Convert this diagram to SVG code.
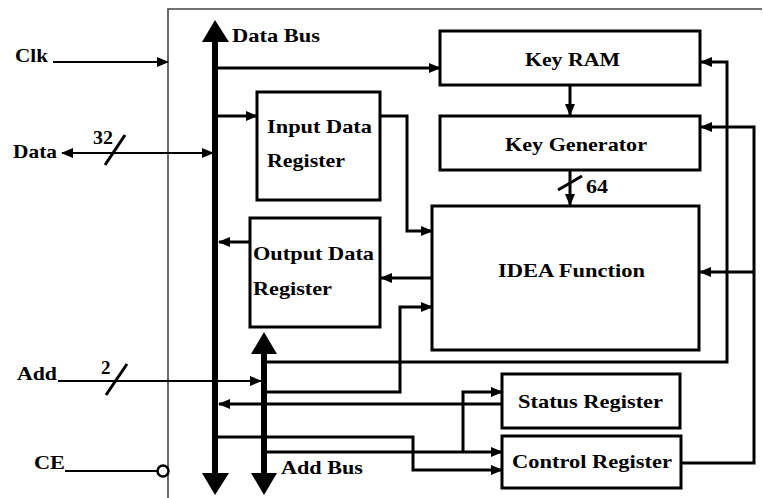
<svg xmlns="http://www.w3.org/2000/svg" width="763" height="498" viewBox="0 0 763 498">
<style>
.box{fill:#fff;stroke:#000;stroke-width:3}
.c{fill:none;stroke:#000;stroke-width:3}
.thin{fill:none;stroke:#000;stroke-width:2}
.a{marker-end:url(#ah)}
.bus{stroke:#000;stroke-width:6}
text{font-family:"Liberation Serif","Times New Roman",serif;font-weight:bold;font-size:19px;fill:#000}
</style>
<defs>
<marker id="ah" viewBox="0 0 12 10" refX="11" refY="5" markerWidth="12" markerHeight="10" markerUnits="userSpaceOnUse" orient="auto-start-reverse">
<path d="M0,0 L12,5 L0,10 z" fill="#000"/>
</marker>
</defs>
<rect width="763" height="498" fill="#fff"/>
<path d="M168,498 L168,9 L762,9" fill="none" stroke="#444" stroke-width="1.6"/>

<g id="connectors">
<path class="thin a" d="M53,62 L168,62"/>
<path class="thin a" d="M62,153 L213,153" marker-start="url(#ah)"/>
<path class="c" d="M105,165 L125,135"/>
<path class="c a" d="M218,68 L440,68"/>
<path class="c a" d="M218,116 L257,116"/>
<path class="c a" d="M380,116 L407,116 L407,231 L432,231"/>
<path class="c a" d="M570,85 L570,115"/>
<path class="c a" d="M570,170 L570,205"/>
<path class="c" d="M558,190 L582,176"/>
<path class="c a" d="M250,242 L219,242"/>
<path class="c a" d="M432,278 L381,278"/>
<path class="c a" d="M267,392 L400,392 L400,307 L432,307"/>
<path class="c a" d="M267,362 L727,362 L727,62 L701,62"/>
<path class="c a" d="M681,463 L754,463 L754,127 L701,127"/>
<path class="c a" d="M754,272 L700,272"/>
<path class="c a" d="M463,452 L463,392 L502,392"/>
<path class="c a" d="M502,404 L219,404"/>
<path class="c a" d="M218,437 L413,437 L413,470 L502,470"/>
<path class="c a" d="M267,452 L502,452"/>
<path class="thin a" d="M58,381 L261,381"/>
<path class="c" d="M106,395 L127,364"/>
<path class="thin" d="M65,471 L157,471"/>
<circle cx="163" cy="471" r="5.5" fill="#fff" stroke="#000" stroke-width="2.5"/>
</g>

<g id="data-bus">
<line class="bus" x1="215" y1="40" x2="215" y2="475"/>
<polygon points="202,42 215,20 229,42" fill="#000"/>
<polygon points="202,473 215,495 229,473" fill="#000"/>
<text x="232" y="42" textLength="88" lengthAdjust="spacingAndGlyphs">Data Bus</text>
</g>
<g id="add-bus">
<line class="bus" x1="264" y1="352" x2="264" y2="475"/>
<polygon points="251,354 264,332 277,354" fill="#000"/>
<polygon points="251,473 264,495 277,473" fill="#000"/>
<text x="281" y="474" textLength="82" lengthAdjust="spacingAndGlyphs">Add Bus</text>
</g>

<g id="labels">
<text x="15" y="62" textLength="33" lengthAdjust="spacingAndGlyphs">Clk</text>
<text x="13" y="158" textLength="44" lengthAdjust="spacingAndGlyphs">Data</text>
<text x="93" y="144" textLength="20" lengthAdjust="spacingAndGlyphs">32</text>
<text x="17" y="380" textLength="40" lengthAdjust="spacingAndGlyphs">Add</text>
<text x="101" y="374">2</text>
<text x="34" y="469" textLength="31" lengthAdjust="spacingAndGlyphs">CE</text>
<text x="586" y="193" textLength="22" lengthAdjust="spacingAndGlyphs">64</text>
</g>

<g id="key-ram">
<rect class="box" x="440" y="31" width="260" height="54"/>
<text x="525" y="66" textLength="95" lengthAdjust="spacingAndGlyphs">Key RAM</text>
</g>
<g id="key-generator">
<rect class="box" x="440" y="116" width="260" height="54"/>
<text x="505" y="151" textLength="142" lengthAdjust="spacingAndGlyphs">Key Generator</text>
</g>
<g id="input-data-register">
<rect class="box" x="257" y="92" width="123" height="108"/>
<text x="267" y="133" textLength="105" lengthAdjust="spacingAndGlyphs">Input Data</text>
<text x="267" y="167" textLength="78" lengthAdjust="spacingAndGlyphs">Register</text>
</g>
<g id="output-data-register">
<rect class="box" x="250" y="218" width="130" height="109"/>
<text x="253" y="260" textLength="121" lengthAdjust="spacingAndGlyphs">Output Data</text>
<text x="253" y="295" textLength="79" lengthAdjust="spacingAndGlyphs">Register</text>
</g>
<g id="idea-function">
<rect class="box" x="432" y="206" width="267" height="144"/>
<text x="498" y="277" textLength="147" lengthAdjust="spacingAndGlyphs">IDEA Function</text>
</g>
<g id="status-register">
<rect class="box" x="502" y="374" width="178" height="54"/>
<text x="518" y="408" textLength="145" lengthAdjust="spacingAndGlyphs">Status Register</text>
</g>
<g id="control-register">
<rect class="box" x="502" y="436" width="179" height="52"/>
<text x="512" y="468" textLength="160" lengthAdjust="spacingAndGlyphs">Control Register</text>
</g>
</svg>
